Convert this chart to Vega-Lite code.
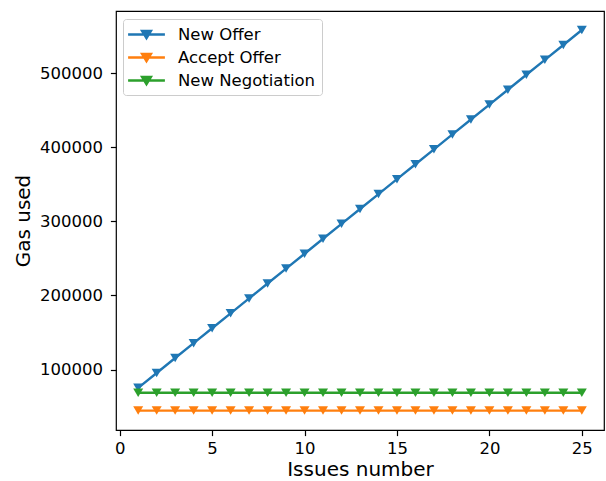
{
  "$schema": "https://vega.github.io/schema/vega-lite/v6.json",
  "autosize": "none",
  "padding": {"left": 116, "top": 11, "right": 2, "bottom": 51},
  "width": 488,
  "height": 419,
  "background": "white",
  "config": {
    "font": "DejaVu Sans",
    "view": {"stroke": "#000000", "strokeWidth": 1.2},
    "axis": {
      "domain": false,
      "grid": false,
      "ticks": true,
      "tickColor": "#000000",
      "tickSize": 5.6,
      "tickWidth": 1.2,
      "labelFont": "DejaVu Sans",
      "labelFontSize": 16.5,
      "labelColor": "#000000",
      "titleFont": "DejaVu Sans",
      "titleFontSize": 20,
      "titleFontWeight": "normal",
      "titleColor": "#000000"
    }
  },
  "datasets": {
    "gas": [
      {"issues": 1, "series": "New Offer", "gas": 75200},
      {"issues": 2, "series": "New Offer", "gas": 95350},
      {"issues": 3, "series": "New Offer", "gas": 115500},
      {"issues": 4, "series": "New Offer", "gas": 135600},
      {"issues": 5, "series": "New Offer", "gas": 155750},
      {"issues": 6, "series": "New Offer", "gas": 175900},
      {"issues": 7, "series": "New Offer", "gas": 196000},
      {"issues": 8, "series": "New Offer", "gas": 216150},
      {"issues": 9, "series": "New Offer", "gas": 236300},
      {"issues": 10, "series": "New Offer", "gas": 256400},
      {"issues": 11, "series": "New Offer", "gas": 276550},
      {"issues": 12, "series": "New Offer", "gas": 296700},
      {"issues": 13, "series": "New Offer", "gas": 316850},
      {"issues": 14, "series": "New Offer", "gas": 336950},
      {"issues": 15, "series": "New Offer", "gas": 357100},
      {"issues": 16, "series": "New Offer", "gas": 377250},
      {"issues": 17, "series": "New Offer", "gas": 397400},
      {"issues": 18, "series": "New Offer", "gas": 417500},
      {"issues": 19, "series": "New Offer", "gas": 437650},
      {"issues": 20, "series": "New Offer", "gas": 457800},
      {"issues": 21, "series": "New Offer", "gas": 477900},
      {"issues": 22, "series": "New Offer", "gas": 498050},
      {"issues": 23, "series": "New Offer", "gas": 518200},
      {"issues": 24, "series": "New Offer", "gas": 538300},
      {"issues": 25, "series": "New Offer", "gas": 558500},
      {"issues": 1, "series": "Accept Offer", "gas": 44500},
      {"issues": 2, "series": "Accept Offer", "gas": 44500},
      {"issues": 3, "series": "Accept Offer", "gas": 44500},
      {"issues": 4, "series": "Accept Offer", "gas": 44500},
      {"issues": 5, "series": "Accept Offer", "gas": 44500},
      {"issues": 6, "series": "Accept Offer", "gas": 44500},
      {"issues": 7, "series": "Accept Offer", "gas": 44500},
      {"issues": 8, "series": "Accept Offer", "gas": 44500},
      {"issues": 9, "series": "Accept Offer", "gas": 44500},
      {"issues": 10, "series": "Accept Offer", "gas": 44500},
      {"issues": 11, "series": "Accept Offer", "gas": 44500},
      {"issues": 12, "series": "Accept Offer", "gas": 44500},
      {"issues": 13, "series": "Accept Offer", "gas": 44500},
      {"issues": 14, "series": "Accept Offer", "gas": 44500},
      {"issues": 15, "series": "Accept Offer", "gas": 44500},
      {"issues": 16, "series": "Accept Offer", "gas": 44500},
      {"issues": 17, "series": "Accept Offer", "gas": 44500},
      {"issues": 18, "series": "Accept Offer", "gas": 44500},
      {"issues": 19, "series": "Accept Offer", "gas": 44500},
      {"issues": 20, "series": "Accept Offer", "gas": 44500},
      {"issues": 21, "series": "Accept Offer", "gas": 44500},
      {"issues": 22, "series": "Accept Offer", "gas": 44500},
      {"issues": 23, "series": "Accept Offer", "gas": 44500},
      {"issues": 24, "series": "Accept Offer", "gas": 44500},
      {"issues": 25, "series": "Accept Offer", "gas": 44500},
      {"issues": 1, "series": "New Negotiation", "gas": 68600},
      {"issues": 2, "series": "New Negotiation", "gas": 68600},
      {"issues": 3, "series": "New Negotiation", "gas": 68600},
      {"issues": 4, "series": "New Negotiation", "gas": 68600},
      {"issues": 5, "series": "New Negotiation", "gas": 68600},
      {"issues": 6, "series": "New Negotiation", "gas": 68600},
      {"issues": 7, "series": "New Negotiation", "gas": 68600},
      {"issues": 8, "series": "New Negotiation", "gas": 68600},
      {"issues": 9, "series": "New Negotiation", "gas": 68600},
      {"issues": 10, "series": "New Negotiation", "gas": 68600},
      {"issues": 11, "series": "New Negotiation", "gas": 68600},
      {"issues": 12, "series": "New Negotiation", "gas": 68600},
      {"issues": 13, "series": "New Negotiation", "gas": 68600},
      {"issues": 14, "series": "New Negotiation", "gas": 68600},
      {"issues": 15, "series": "New Negotiation", "gas": 68600},
      {"issues": 16, "series": "New Negotiation", "gas": 68600},
      {"issues": 17, "series": "New Negotiation", "gas": 68600},
      {"issues": 18, "series": "New Negotiation", "gas": 68600},
      {"issues": 19, "series": "New Negotiation", "gas": 68600},
      {"issues": 20, "series": "New Negotiation", "gas": 68600},
      {"issues": 21, "series": "New Negotiation", "gas": 68600},
      {"issues": 22, "series": "New Negotiation", "gas": 68600},
      {"issues": 23, "series": "New Negotiation", "gas": 68600},
      {"issues": 24, "series": "New Negotiation", "gas": 68600},
      {"issues": 25, "series": "New Negotiation", "gas": 68600}
    ]
  },
  "data": {"name": "gas"},
  "encoding": {
    "x": {
      "field": "issues",
      "type": "quantitative",
      "title": "Issues number",
      "scale": {"domain": [-0.2, 26.2], "nice": false, "zero": false},
      "axis": {"values": [0, 5, 10, 15, 20, 25], "labelPadding": 5, "titlePadding": 2, "format": "d"}
    },
    "y": {
      "field": "gas",
      "type": "quantitative",
      "title": "Gas used",
      "scale": {"domain": [18300, 584200], "nice": false, "zero": false},
      "axis": {"values": [100000, 200000, 300000, 400000, 500000], "labelPadding": 8, "titlePadding": 6, "format": "d"}
    },
    "color": {
      "field": "series",
      "type": "nominal",
      "sort": ["New Offer", "Accept Offer", "New Negotiation"],
      "scale": {
        "domain": ["New Offer", "Accept Offer", "New Negotiation"],
        "range": ["#1f77b4", "#ff7f0e", "#2ca02c"]
      },
      "legend": {
        "title": null,
        "orient": "none",
        "legendX": 7,
        "legendY": 8,
        "padding": 6,
        "symbolType": "M-2.3,0L2.3,0M-0.55,-0.45L0.55,-0.45L0,0.45Z",
        "symbolSize": 256,
        "symbolStrokeWidth": 2.4,
        "symbolOffset": 8,
        "labelOffset": 22,
        "labelFont": "DejaVu Sans",
        "labelFontSize": 16.5,
        "labelColor": "#000000",
        "rowPadding": 5,
        "strokeColor": "#cccccc",
        "fillColor": "rgba(255,255,255,0.8)",
        "cornerRadius": 3
      }
    }
  },
  "layer": [
    {"mark": {"type": "line", "strokeWidth": 2.4}},
    {"mark": {"type": "point", "shape": "M0,0.85L-1,-0.85L1,-0.85Z", "filled": true, "size": 100, "opacity": 1}}
  ]
}
